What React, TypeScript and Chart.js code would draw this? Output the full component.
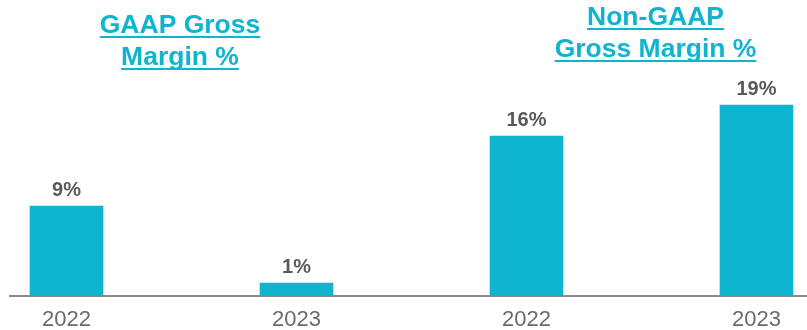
import { useEffect, useRef } from "react";
import { Chart, registerables } from "chart.js";

Chart.register(...registerables);

// ---- data ----
const categories = ["2022", "2023", "2022", "2023"];
const marginValues = [9.0, 1.3, 16.0, 19.1];
const gaapTitle = ["GAAP Gross", "Margin %"];
const nonGaapTitle = ["Non-GAAP", "Gross Margin %"];

// ---- style ----
const FONT = '"Liberation Sans", Arial, Helvetica, sans-serif';
const TEAL = "#0fb5cf";
const LABEL_GRAY = "#595959";
const TICK_GRAY = "#6b6b6b";
const AXIS_GRAY = "#8c8c8c";

const valueLabelsPlugin = {
  id: "valueLabels",
  afterDatasetsDraw(chart: any) {
    const ctx = chart.ctx;
    const meta = chart.getDatasetMeta(0);
    ctx.save();
    ctx.font = `bold 20px ${FONT}`;
    ctx.fillStyle = LABEL_GRAY;
    ctx.textAlign = "center";
    ctx.textBaseline = "alphabetic";
    meta.data.forEach((bar: any, i: number) => {
      ctx.fillText(`${Math.round(marginValues[i])}%`, bar.x, bar.y - 10);
    });
    ctx.restore();
  },
};

const titlesPlugin = {
  id: "groupTitles",
  afterDraw(chart: any) {
    const ctx = chart.ctx;
    const xs = chart.scales.x;
    const groups = [
      { lines: gaapTitle, center: (xs.getPixelForValue(0) + xs.getPixelForValue(1)) / 2 - 1.5, baselines: [33, 65] },
      { lines: nonGaapTitle, center: (xs.getPixelForValue(2) + xs.getPixelForValue(3)) / 2 + 14, baselines: [25, 57] },
    ];
    ctx.save();
    ctx.font = `bold 26.5px ${FONT}`;
    ctx.fillStyle = TEAL;
    ctx.textAlign = "center";
    ctx.textBaseline = "alphabetic";
    groups.forEach((g) => {
      g.lines.forEach((line, j) => {
        const y = g.baselines[j];
        ctx.fillText(line, g.center, y);
        const w = ctx.measureText(line).width;
        ctx.fillRect(g.center - w / 2, y + 3, w, 2);
      });
    });
    ctx.restore();
  },
};

export default function App() {
  const canvasRef = useRef<HTMLCanvasElement | null>(null);

  useEffect(() => {
    document.body.style.margin = "0";
    const canvas = canvasRef.current;
    if (!canvas) return;
    const chart = new Chart(canvas, {
      type: "bar",
      data: {
        datasets: [
          {
            data: marginValues.map((v, i) => ({ x: i, y: v })),
            backgroundColor: TEAL,
            borderWidth: 0,
            barThickness: 73,
          },
        ],
      },
      options: {
        animation: false,
        responsive: false,
        maintainAspectRatio: false,
        layout: { padding: { top: 46, left: 10, right: 0, bottom: 0 } },
        plugins: {
          legend: { display: false },
          tooltip: { enabled: false },
          title: { display: false },
        },
        scales: {
          x: {
            type: "linear",
            offset: false,
            min: -0.2457,
            max: 3.2196,
            grid: { display: false, drawTicks: false, offset: false },
            border: { display: true, color: AXIS_GRAY, width: 2 },
            ticks: {
              font: { family: FONT, size: 22 },
              color: TICK_GRAY,
              padding: 11,
              autoSkip: false,
              maxRotation: 0,
              callback: (v: any) => categories[v as number] ?? "",
            },
            afterBuildTicks: (scale: any) => {
              scale.ticks = categories.map((_, i) => ({ value: i }));
            },
            afterFit: (scale: any) => {
              scale.height = 34;
            },
          },
          y: { display: false, min: 0, max: 25 },
        },
      },
      plugins: [valueLabelsPlugin, titlesPlugin],
    });
    return () => chart.destroy();
  }, []);

  return (
    <div style={{ position: "relative", width: 807, height: 330 }}>
      <canvas ref={canvasRef} width={807} height={330} style={{ display: "block" }} />
    </div>
  );
}
